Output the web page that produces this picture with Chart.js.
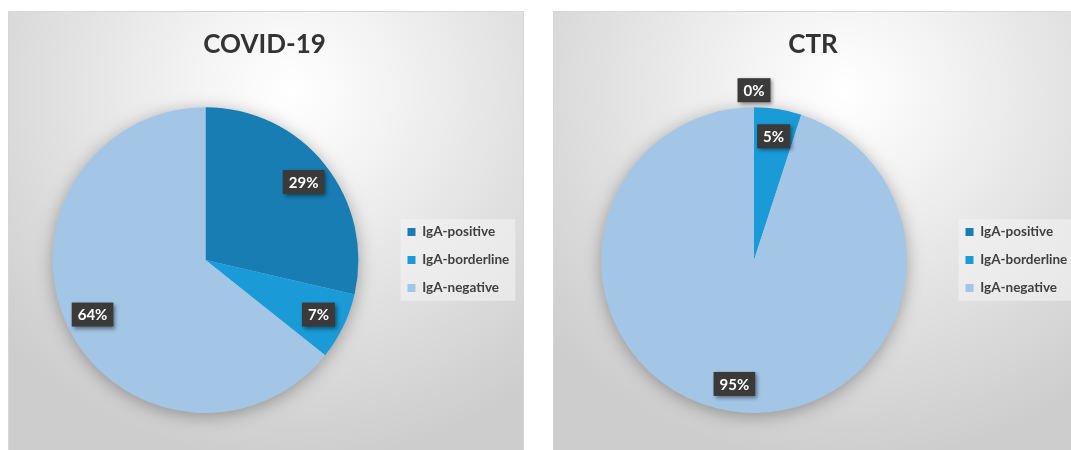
<!DOCTYPE html>
<html>
<head>
<meta charset="utf-8">
<script src="https://cdn.jsdelivr.net/npm/chart.js@4"></script>
<style>
  body { margin: 0; background: #fff; width: 1071px; height: 450px; overflow: hidden; position: relative; }
  .painel { position: absolute; top: 11px; height: 439px; border: 1px solid #d6d6d6; border-bottom: none; box-sizing: border-box;
    background: radial-gradient(ellipse 75% 85% at 55% 18%, #ffffff 0%, #f5f5f5 22%, #e0e0e0 62%, #cdcdcd 100%); }
  #p1 { left: 8px; width: 516px; }
  #p2 { left: 553px; width: 530px; }
  canvas { position: absolute; left: 0; top: 0; }
</style>
</head>
<body>
<div class="painel" id="p1"><canvas id="g1" width="516" height="439"></canvas></div>
<div class="painel" id="p2"><canvas id="g2" width="530" height="439"></canvas></div>
<script>
const categorias = ["IgA-positive", "IgA-borderline", "IgA-negative"];
const cores = ["#187db3", "#1a9bd7", "#a3c6e7"];
const titulo1 = "COVID-19";
const valores1 = [28.6, 7.1, 64.3];
const titulo2 = "CTR";
const valores2 = [0, 5, 95];

// sombra suave por baixo da pizza
const sombraPizza = {
    id: "sombraPizza",
    beforeDatasetsDraw(chart) {
        const arc = chart.getDatasetMeta(0).data[0];
        const ctx = chart.ctx;
        ctx.save();
        ctx.shadowColor = "rgba(0,0,0,0.35)";
        ctx.shadowBlur = 18;
        ctx.shadowOffsetY = 3;
        ctx.fillStyle = "#a3c6e7";
        ctx.beginPath();
        ctx.arc(arc.x, arc.y, arc.outerRadius - 1, 0, Math.PI * 2);
        ctx.fill();
        ctx.restore();
    }
};

// fundo claro atrás da legenda
const fundoLegenda = {
    id: "fundoLegenda",
    beforeDraw(chart) {
        const hb = chart.legend.legendHitBoxes;
        if (!hb || !hb.length) return;
        const ctx = chart.ctx;
        const esq = hb[0].left - 7;
        const topo = hb[0].top - 6;
        const dir = Math.max(...hb.map(h => h.left + h.width)) + 6;
        const ult = hb[hb.length - 1];
        ctx.save();
        ctx.fillStyle = "rgba(244,244,244,0.6)";
        ctx.fillRect(esq, topo, dir - esq, ult.top + ult.height + 6 - topo);
        ctx.restore();
    }
};

// rótulos de percentagem em caixas escuras
const rotulos = {
    id: "rotulos",
    afterDatasetsDraw(chart) {
        const ctx = chart.ctx;
        const dados = chart.data.datasets[0].data;
        const total = dados.reduce((a, b) => a + b, 0);
        ctx.save();
        ctx.font = "bold 15px Lato";
        ctx.textAlign = "center";
        ctx.textBaseline = "middle";
        chart.getDatasetMeta(0).data.forEach((arc, i) => {
            const meio = (arc.startAngle + arc.endAngle) / 2;
            const r = dados[i] === 0 ? arc.outerRadius + 17 : arc.outerRadius * 0.82;
            const x = arc.x + Math.cos(meio) * r;
            const y = arc.y + Math.sin(meio) * r;
            const txt = Math.round(dados[i] / total * 100) + "%";
            const w = ctx.measureText(txt).width + 12, h = 24;
            ctx.shadowColor = "rgba(0,0,0,0.45)";
            ctx.shadowBlur = 4;
            ctx.shadowOffsetX = 2;
            ctx.shadowOffsetY = 2;
            ctx.fillStyle = "#3a3a3a";
            ctx.fillRect(x - w / 2, y - h / 2, w, h);
            ctx.shadowColor = "transparent";
            ctx.fillStyle = "#ffffff";
            ctx.fillText(txt, x, y + 1);
        });
        ctx.restore();
    }
};

function criarPizza(id, titulo, valores, pad) {
    new Chart(document.getElementById(id), {
        type: "pie",
        data: { labels: categorias, datasets: [{ data: valores, backgroundColor: cores, borderWidth: 0 }] },
        options: {
            responsive: false,
            animation: false,
            layout: { padding: pad },
            plugins: {
                title: { display: true, text: titulo, color: "#333333", font: { family: "Lato", size: 26, weight: "bold" }, padding: { top: 17, bottom: 47 } },
                legend: {
                    position: "right",
                    maxWidth: 118,
                    // título vazio só para descer os itens até ao centro da pizza
                    title: { display: true, text: " ", font: { size: 10 }, padding: { top: 83, bottom: 0 } },
                    labels: { boxWidth: 8, boxHeight: 8, padding: 14.5, color: "#404040", font: { family: "Lato", size: 13.5, weight: "bold" } }
                },
                tooltip: { enabled: false }
            }
        },
        plugins: [fundoLegenda, sombraPizza, rotulos]
    });
}

criarPizza("g1", titulo1, valores1, { left: 9, right: 14, top: 0, bottom: 38 });
criarPizza("g2", titulo2, valores2, { left: 3, right: 15, top: 0, bottom: 38 });
</script>
</body>
</html>
